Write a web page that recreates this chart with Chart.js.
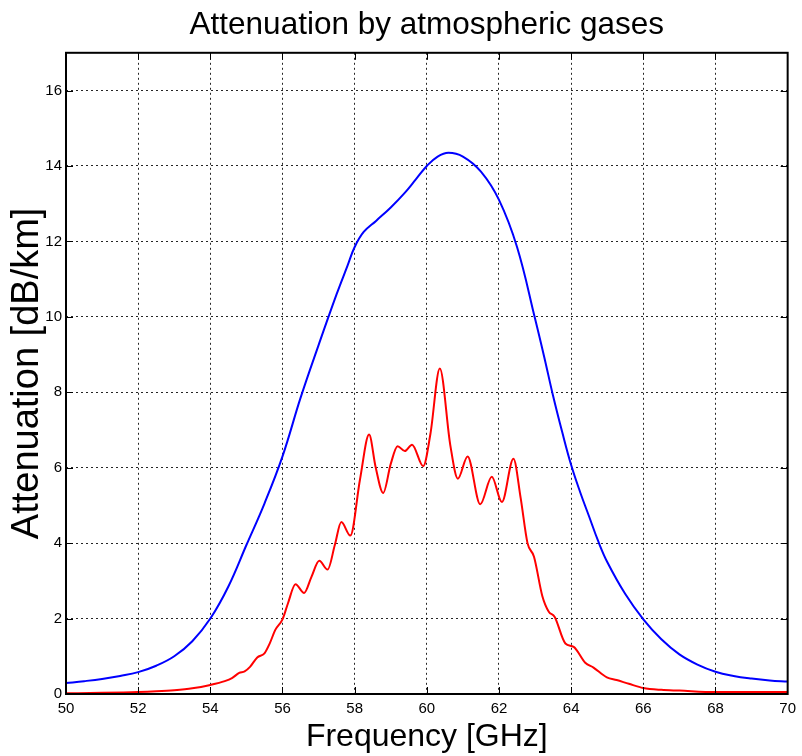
<!DOCTYPE html>
<html>
<head>
<meta charset="utf-8">
<title>Attenuation by atmospheric gases</title>
<script src="https://cdn.jsdelivr.net/npm/chart.js@4.4.0/dist/chart.umd.min.js"></script>
<style>
  html, body { margin: 0; padding: 0; background: #fff; }
  #chart { display: block; }
</style>
</head>
<body>
<canvas id="chart" width="802" height="756"></canvas>
<script>
// blue curve (upper)
const blueFreq = [50, 50.5, 51, 51.5, 52, 52.5, 53, 53.5, 54, 54.5, 55, 55.5, 56, 56.5, 57, 57.5, 57.8, 58, 58.25, 58.6, 59, 59.4, 59.7,
    60, 60.3, 60.6, 61, 61.5, 62, 62.5, 63, 63.25, 63.5, 63.75, 64, 64.25, 64.5, 64.75, 65, 65.5, 66, 66.5, 67, 67.5, 68, 68.5, 69, 69.5, 70];
const blueAtt = [0.29, 0.34, 0.40, 0.48, 0.58, 0.75, 1.0, 1.4, 2.0, 2.85, 3.95, 5.05, 6.3, 7.85, 9.25, 10.6, 11.35, 11.85, 12.25, 12.55, 12.9, 13.3, 13.65,
    14.0, 14.25, 14.35, 14.25, 13.85, 13.1, 11.85, 9.95, 8.95, 7.9, 6.95, 6.07, 5.35, 4.7, 4.05, 3.5, 2.65, 1.98, 1.45, 1.05, 0.78, 0.59, 0.48, 0.41, 0.36, 0.33];

// red curve (lower, with line structure)
const redFreq = [50, 51, 52, 52.5, 53, 53.5, 54, 54.4, 54.6, 54.8, 54.95, 55.1, 55.3, 55.5, 55.65, 55.8, 56.0, 56.15, 56.36, 56.6,
    56.8, 57.02, 57.25, 57.45, 57.63, 57.88, 58.15, 58.4, 58.58, 58.79, 59.0, 59.19, 59.39, 59.59, 59.9, 60.1, 60.36, 60.65, 60.86,
    61.13, 61.48, 61.8, 62.08, 62.4, 62.6, 62.79, 62.97, 63.2, 63.38, 63.54, 63.84, 64.07, 64.39, 64.62, 64.99, 65.26, 65.6, 66.0, 66.5,
    67, 68, 70];
const redAtt = [0.02, 0.03, 0.05, 0.07, 0.1, 0.15, 0.24, 0.34, 0.42, 0.56, 0.6, 0.72, 0.97, 1.08, 1.35, 1.7, 1.98, 2.4, 2.91, 2.68,
    3.1, 3.53, 3.3, 3.95, 4.56, 4.2, 5.7, 6.88, 6.02, 5.33, 6.1, 6.57, 6.44, 6.61, 6.04, 6.9, 8.63, 6.6, 5.71,
    6.3, 5.03, 5.76, 5.09, 6.24, 5.2, 4.0, 3.64, 2.6, 2.18, 2.05, 1.34, 1.25, 0.83, 0.7, 0.44, 0.37, 0.27, 0.16, 0.11,
    0.09, 0.05, 0.05];

const xMin = 50, xMax = 70, xStep = 2;
const yMin = 0, yMax = 17, yStep = 2;

const FONT = '"Liberation Sans", Arial, sans-serif';

function toPoints(xs, ys) {
    return xs.map((x, i) => ({ x: x, y: ys[i] }));
}

// box around the axes + inward tick marks, matlab style
const frameBox = {
    id: 'frameBox',
    afterDraw(chart) {
        const { ctx, chartArea: a, scales } = chart;
        const len = 7;
        ctx.save();
        ctx.strokeStyle = '#000';
        ctx.lineWidth = 1;
        ctx.beginPath();
        scales.x.ticks.forEach(t => {
            if (t.value === xMin || t.value === xMax) return;
            const px = Math.round(scales.x.getPixelForValue(t.value)) + 0.5;
            ctx.moveTo(px, a.bottom); ctx.lineTo(px, a.bottom - len);
            ctx.moveTo(px, a.top); ctx.lineTo(px, a.top + len);
        });
        scales.y.ticks.forEach(t => {
            if (t.value === yMin || t.value === yMax) return;
            const py = Math.round(scales.y.getPixelForValue(t.value)) + 0.5;
            ctx.moveTo(a.left, py); ctx.lineTo(a.left + len, py);
            ctx.moveTo(a.right, py); ctx.lineTo(a.right - len, py);
        });
        ctx.stroke();
        ctx.lineWidth = 2;
        ctx.strokeRect(a.left, a.top, a.right - a.left, a.bottom - a.top);
        ctx.restore();
    }
};

const gridColor = (lo, hi) => c => (c.tick && (c.tick.value === lo || c.tick.value === hi)) ? 'rgba(0,0,0,0)' : 'rgba(0,0,0,0.85)';

new Chart(document.getElementById('chart'), {
    type: 'line',
    data: {
        datasets: [
            { label: 'total', data: toPoints(blueFreq, blueAtt), borderColor: '#0000ff', borderWidth: 2, pointRadius: 0, tension: 0.4, fill: false },
            { label: 'lines', data: toPoints(redFreq, redAtt), borderColor: '#ff0000', borderWidth: 2, pointRadius: 0, cubicInterpolationMode: 'monotone', fill: false }
        ]
    },
    options: {
        responsive: false,
        animation: false,
        layout: { padding: { left: 0, right: 10, top: 0, bottom: 0 } },
        plugins: {
            legend: { display: false },
            tooltip: { enabled: false },
            title: {
                display: true,
                fullSize: false,
                text: 'Attenuation by atmospheric gases',
                color: '#000',
                font: { family: FONT, size: 31.5, weight: 'normal', lineHeight: 1.2 },
                padding: { top: 6, bottom: 9 }
            }
        },
        scales: {
            x: {
                type: 'linear',
                min: xMin, max: xMax,
                afterFit: s => { s.height = 62; },
                ticks: { stepSize: xStep, color: '#000', padding: 6, maxRotation: 0, font: { family: FONT, size: 15 } },
                grid: { drawTicks: false, color: gridColor(xMin, xMax), lineWidth: 1 },
                border: { display: false, dash: [2, 3] },
                title: {
                    display: true, text: 'Frequency [GHz]', color: '#000',
                    font: { family: FONT, size: 32, lineHeight: 1 },
                    padding: { top: 0, bottom: 3 }
                }
            },
            y: {
                type: 'linear',
                min: yMin, max: yMax,
                afterFit: s => { s.width = 66; },
                afterBuildTicks: s => { s.ticks = s.ticks.filter(t => t.value % yStep === 0); },
                ticks: { stepSize: yStep, color: '#000', padding: 4, font: { family: FONT, size: 15 } },
                grid: { drawTicks: false, color: gridColor(yMin, yMax), lineWidth: 1 },
                border: { display: false, dash: [2, 3] },
                title: {
                    display: true, text: 'Attenuation [dB/km]', color: '#000',
                    font: { family: FONT, size: 38, lineHeight: 1 },
                    padding: { top: 9, bottom: 0 }
                }
            }
        }
    },
    plugins: [frameBox]
});
</script>
</body>
</html>
